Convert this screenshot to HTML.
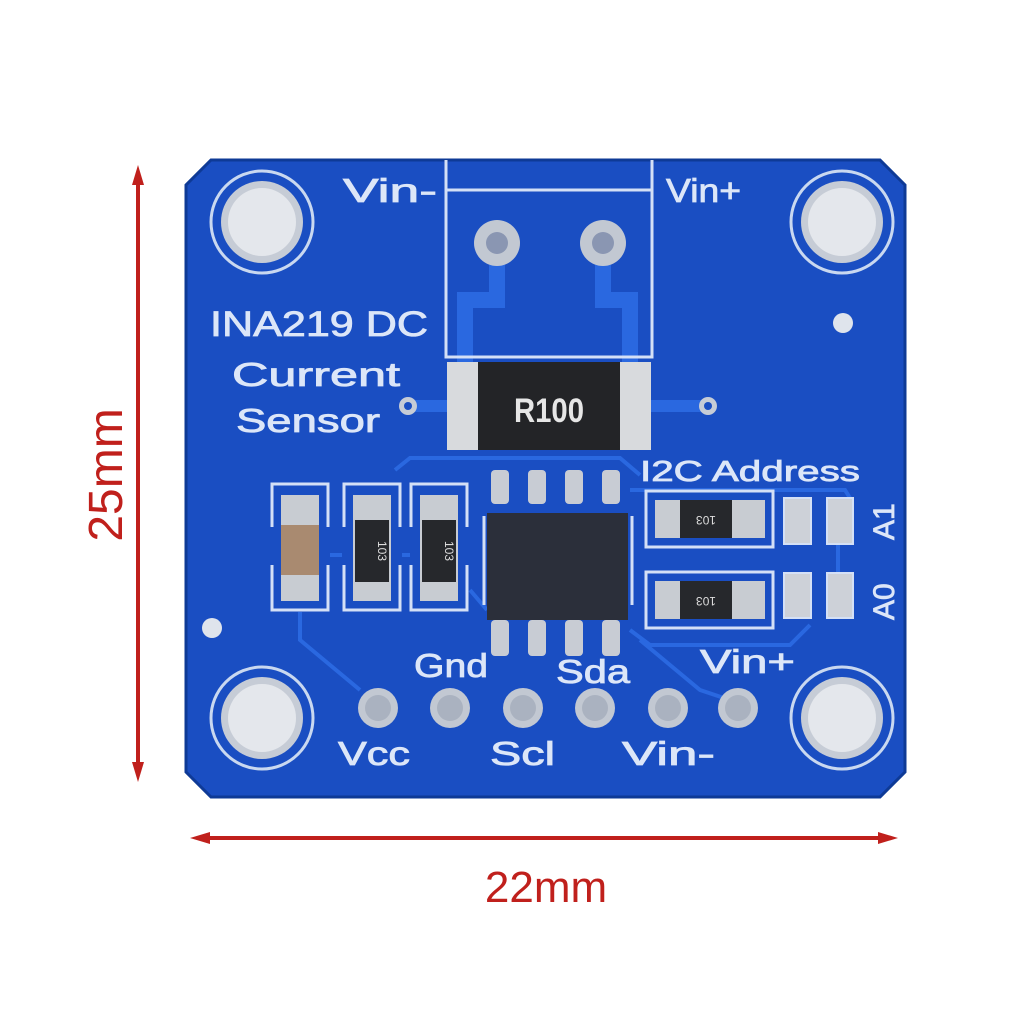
<!DOCTYPE html>
<html><head><meta charset="utf-8"><style>
html,body{margin:0;padding:0;background:#fff;}
svg{display:block;}
text{font-family:"Liberation Sans",sans-serif;}
</style></head><body>
<svg width="1024" height="1018" viewBox="0 0 1024 1018" xmlns="http://www.w3.org/2000/svg">
<rect width="1024" height="1018" fill="#fff"/>
<g fill="#c0201c" stroke="#c0201c">
<line x1="138" y1="178" x2="138" y2="770" stroke-width="4"/>
<polygon points="138,165 132,185 144,185" stroke="none"/>
<polygon points="138,782 132,762 144,762" stroke="none"/>
<line x1="200" y1="838" x2="888" y2="838" stroke-width="4"/>
<polygon points="190,838 210,832 210,844" stroke="none"/>
<polygon points="898,838 878,832 878,844" stroke="none"/>
</g>
<text x="0" y="0" transform="translate(122,475) rotate(-90)" text-anchor="middle" font-size="48" fill="#c0201c">25mm</text>
<text x="546" y="902" text-anchor="middle" font-size="44" fill="#c0201c">22mm</text>

<path d="M211,160 L880,160 L905,185 L905,772 L880,797 L211,797 L186,772 L186,185 Z" fill="#1a4ec2"/>
<path d="M211,160 L880,160 L905,185 L905,772 L880,797 L211,797 L186,772 L186,185 Z" fill="none" stroke="#0e3a96" stroke-width="3"/>

<g fill="none" stroke="#2a68e0" stroke-width="4">
<path d="M395,470 L410,458 L620,458 L640,475"/>
<path d="M630,490 L770,490 L845,490 L850,498"/>
<path d="M630,630 L650,645 L790,645 L810,625"/>
<path d="M300,612 L300,640 L360,690"/>
<path d="M470,590 L487,610"/>
<path d="M640,640 L700,690 L730,700"/>
<path d="M838,545 L838,575"/>
<path d="M330,555 L342,555 M402,555 L410,555"/>
</g>
<g fill="none" stroke="#2a68e0" stroke-width="16">
<path d="M497,243 L497,300 L465,300 L465,365"/>
<path d="M603,243 L603,300 L630,300 L630,365"/>
</g>
<path d="M408,406 L450,406 M650,406 L708,406" stroke="#2a68e0" stroke-width="12"/>

<g>
<circle cx="262" cy="222" r="51" fill="none" stroke="#c9d8f0" stroke-width="3"/>
<circle cx="262" cy="222" r="41" fill="#c6ccd6"/><circle cx="262" cy="222" r="34" fill="#e4e7ec"/>
<circle cx="842" cy="222" r="51" fill="none" stroke="#c9d8f0" stroke-width="3"/>
<circle cx="842" cy="222" r="41" fill="#c6ccd6"/><circle cx="842" cy="222" r="34" fill="#e4e7ec"/>
<circle cx="262" cy="718" r="51" fill="none" stroke="#c9d8f0" stroke-width="3"/>
<circle cx="262" cy="718" r="41" fill="#c6ccd6"/><circle cx="262" cy="718" r="34" fill="#e4e7ec"/>
<circle cx="842" cy="718" r="51" fill="none" stroke="#c9d8f0" stroke-width="3"/>
<circle cx="842" cy="718" r="41" fill="#c6ccd6"/><circle cx="842" cy="718" r="34" fill="#e4e7ec"/>
</g>
<circle cx="843" cy="323" r="10" fill="#dfe4ec"/>
<circle cx="212" cy="628" r="10" fill="#dfe4ec"/>

<g fill="none" stroke="#d4e0f6" stroke-width="3">
<path d="M446,160 L446,357 L652,357 L652,160"/>
<line x1="446" y1="190" x2="652" y2="190"/>
</g>
<circle cx="497" cy="243" r="23" fill="#c2c8d2"/><circle cx="497" cy="243" r="11" fill="#8a96b2"/>
<circle cx="603" cy="243" r="23" fill="#c2c8d2"/><circle cx="603" cy="243" r="11" fill="#8a96b2"/>

<rect x="447" y="362" width="204" height="88" fill="#d8dadd"/>
<rect x="478" y="362" width="142" height="88" fill="#232427"/>
<text x="549" y="422" text-anchor="middle" font-size="34" fill="#e6e6e6" font-family="Liberation Serif" font-weight="bold" textLength="70" lengthAdjust="spacingAndGlyphs">R100</text>
<circle cx="408" cy="406" r="9" fill="#c6ccd6"/><circle cx="408" cy="406" r="4" fill="#1a4ec2"/>
<circle cx="708" cy="406" r="9" fill="#c6ccd6"/><circle cx="708" cy="406" r="4" fill="#1a4ec2"/>

<g fill="#dce6f8" stroke="#dce6f8" stroke-width="0.8" font-size="33">
<text x="343" y="202" textLength="94" lengthAdjust="spacingAndGlyphs">Vin-</text>
<text x="666" y="202" textLength="75" lengthAdjust="spacingAndGlyphs">Vin+</text>
<text x="210" y="336" font-size="35" textLength="218" lengthAdjust="spacingAndGlyphs">INA219 DC</text>
<text x="232" y="386" textLength="168" lengthAdjust="spacingAndGlyphs">Current</text>
<text x="236" y="432" textLength="144" lengthAdjust="spacingAndGlyphs">Sensor</text>
<text x="640" y="481" font-size="29" textLength="220" lengthAdjust="spacingAndGlyphs">I2C Address</text>
<text x="414" y="677" textLength="74" lengthAdjust="spacingAndGlyphs">Gnd</text>
<text x="556" y="683" textLength="74" lengthAdjust="spacingAndGlyphs">Sda</text>
<text x="700" y="673" textLength="95" lengthAdjust="spacingAndGlyphs">Vin+</text>
<text x="338" y="765" textLength="72" lengthAdjust="spacingAndGlyphs">Vcc</text>
<text x="490" y="765" textLength="65" lengthAdjust="spacingAndGlyphs">Scl</text>
<text x="622" y="765" textLength="93" lengthAdjust="spacingAndGlyphs">Vin-</text>
<text transform="translate(894,540) rotate(-90)" font-size="30">A1</text>
<text transform="translate(894,620) rotate(-90)" font-size="30">A0</text>
</g>

<g fill="none" stroke="#d4e0f6" stroke-width="3">
<path d="M272,527 L272,484 L328,484 L328,527 M272,565 L272,610 L328,610 L328,565"/>
<path d="M344,527 L344,484 L400,484 L400,527 M344,565 L344,610 L400,610 L400,565"/>
<path d="M411,527 L411,484 L467,484 L467,527 M411,565 L411,610 L467,610 L467,565"/>
</g>
<rect x="281" y="495" width="38" height="106" fill="#c8ccd2"/>
<rect x="281" y="525" width="38" height="50" fill="#a98a70"/>
<rect x="353" y="495" width="38" height="106" fill="#c8ccd2"/>
<rect x="355" y="520" width="34" height="62" fill="#26282c"/>
<rect x="420" y="495" width="38" height="106" fill="#c8ccd2"/>
<rect x="422" y="520" width="34" height="62" fill="#26282c"/>
<text transform="translate(378,551) rotate(90)" text-anchor="middle" font-size="12" fill="#ddd">103</text>
<text transform="translate(445,551) rotate(90)" text-anchor="middle" font-size="12" fill="#ddd">103</text>

<g fill="#c8ccd4">
<rect x="491" y="470" width="18" height="34" rx="4"/><rect x="528" y="470" width="18" height="34" rx="4"/>
<rect x="565" y="470" width="18" height="34" rx="4"/><rect x="602" y="470" width="18" height="34" rx="4"/>
<rect x="491" y="620" width="18" height="36" rx="4"/><rect x="528" y="620" width="18" height="36" rx="4"/>
<rect x="565" y="620" width="18" height="36" rx="4"/><rect x="602" y="620" width="18" height="36" rx="4"/>
</g>
<rect x="487" y="513" width="141" height="107" fill="#2b2f3a"/>
<g stroke="#d4e0f6" stroke-width="3"><line x1="484" y1="516" x2="484" y2="605"/><line x1="632" y1="516" x2="632" y2="605"/></g>

<g fill="none" stroke="#d4e0f6" stroke-width="3">
<rect x="646" y="491" width="127" height="56"/>
<rect x="646" y="572" width="127" height="56"/>
</g>
<rect x="655" y="500" width="110" height="38" fill="#c8ccd2"/>
<rect x="680" y="500" width="52" height="38" fill="#26282c"/>
<rect x="655" y="581" width="110" height="38" fill="#c8ccd2"/>
<rect x="680" y="581" width="52" height="38" fill="#26282c"/>
<text x="706" y="524" text-anchor="middle" font-size="12" fill="#ddd" transform="rotate(180,706,520)">103</text>
<text x="706" y="605" text-anchor="middle" font-size="12" fill="#ddd" transform="rotate(180,706,601)">103</text>
<g fill="#cdd1d8" stroke="#d4e0f6" stroke-width="2">
<rect x="784" y="498" width="27" height="46"/><rect x="827" y="498" width="26" height="46"/>
<rect x="784" y="573" width="27" height="45"/><rect x="827" y="573" width="26" height="45"/>
</g>

<g>
<circle cx="378" cy="708" r="20" fill="#c2c8d2"/><circle cx="378" cy="708" r="13" fill="#aab2c0"/>
<circle cx="450" cy="708" r="20" fill="#c2c8d2"/><circle cx="450" cy="708" r="13" fill="#aab2c0"/>
<circle cx="523" cy="708" r="20" fill="#c2c8d2"/><circle cx="523" cy="708" r="13" fill="#aab2c0"/>
<circle cx="595" cy="708" r="20" fill="#c2c8d2"/><circle cx="595" cy="708" r="13" fill="#aab2c0"/>
<circle cx="668" cy="708" r="20" fill="#c2c8d2"/><circle cx="668" cy="708" r="13" fill="#aab2c0"/>
<circle cx="738" cy="708" r="20" fill="#c2c8d2"/><circle cx="738" cy="708" r="13" fill="#aab2c0"/>
</g>
</svg>
</body></html>
